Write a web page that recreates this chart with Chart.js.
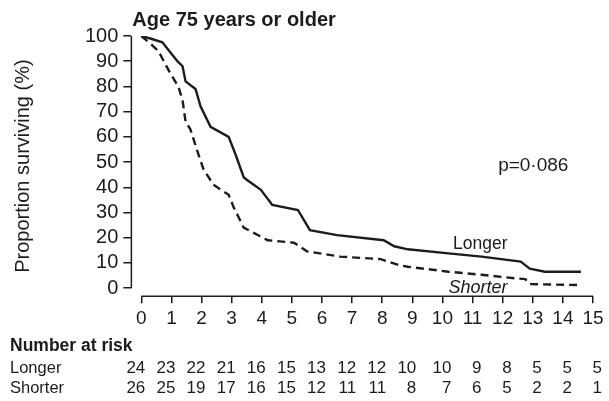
<!DOCTYPE html>
<html>
<head>
<meta charset="utf-8">
<script src="https://cdn.jsdelivr.net/npm/chart.js@4.4.1/dist/chart.umd.min.js"></script>
<style>
  html, body { margin: 0; padding: 0; background: #fff; }
  #wrap { width: 609px; height: 401px; position: relative; }
</style>
</head>
<body>
<div id="wrap"><canvas id="km"></canvas></div>
<script>
// survival curves (years, % surviving)
const longerX = [0, 0.3, 0.7, 1.0, 1.2, 1.37, 1.47, 1.8, 1.97, 2.3, 2.9, 3.13, 3.4, 3.5, 3.97, 4.35, 5.2, 5.6, 6.5, 8.05, 8.4, 8.85, 10.2, 11.3, 12.6, 12.9, 13.4, 14.6];
const longerY = [100, 99, 97.5, 93, 90, 88, 82, 79, 72, 64, 60, 53, 44, 43, 39, 33, 31, 23, 21, 19, 16.6, 15.4, 13.8, 12.5, 10.5, 7.7, 6.5, 6.5];
const shorterX = [0, 0.3, 0.57, 0.97, 1.23, 1.37, 1.47, 1.63, 1.87, 2.07, 2.4, 2.9, 3.07, 3.4, 4.2, 5.07, 5.5, 6.6, 7.95, 8.6, 8.85, 10.2, 11.3, 12.5, 12.75, 12.9, 14.6];
const shorterY = [100, 97, 94, 85, 80, 74.5, 66, 63, 54, 47, 41, 37, 32, 24, 19, 18, 14.6, 12.5, 11.5, 9, 8.5, 6.5, 5.3, 3.8, 3.6, 1.6, 1.2];

const xTicks = [0, 1, 2, 3, 4, 5, 6, 7, 8, 9, 10, 11, 12, 13, 14, 15];
const yTicks = [0, 10, 20, 30, 40, 50, 60, 70, 80, 90, 100];

const riskLonger = [24, 23, 22, 21, 16, 15, 13, 12, 12, 10, 10, 9, 8, 5, 5, 5];
const riskShorter = [26, 25, 19, 17, 16, 15, 12, 11, 11, 8, 7, 6, 5, 2, 2, 1];

const ink = "#1c1c1c";
const FONT = "'Liberation Sans', Arial, sans-serif";

const pts = (xs, ys) => xs.map((x, i) => ({ x, y: ys[i] }));

// axis lines only span the data range (0..100, 0..15), offset like the print
const axisLines = {
  id: "axisLines",
  afterDraw(chart) {
    const { ctx, scales: { x, y }, chartArea } = chart;
    ctx.save();
    ctx.strokeStyle = ink;
    ctx.lineWidth = 1.5;
    ctx.beginPath();
    ctx.moveTo(chartArea.left, y.getPixelForValue(100));
    ctx.lineTo(chartArea.left, y.getPixelForValue(0));
    ctx.moveTo(x.getPixelForValue(0), chartArea.bottom);
    ctx.lineTo(x.getPixelForValue(15), chartArea.bottom);
    ctx.stroke();
    ctx.restore();
  }
};

// title, labels, p value and the number-at-risk table
const annotations = {
  id: "annotations",
  afterDraw(chart) {
    const { ctx, scales: { x, y }, chartArea } = chart;
    ctx.save();
    ctx.fillStyle = ink;
    ctx.textBaseline = "middle";

    ctx.textAlign = "left";
    ctx.font = `bold 20px ${FONT}`;
    ctx.fillText("Age 75 years or older", chartArea.left + 1, 20);

    ctx.font = `19px ${FONT}`;
    ctx.fillText("p=0·086", x.getPixelForValue(11.85), y.getPixelForValue(48.5));
    ctx.font = `17.5px ${FONT}`;
    ctx.fillText("Longer", x.getPixelForValue(10.35), y.getPixelForValue(17.5));
    ctx.font = `italic 18px ${FONT}`;
    ctx.fillText("Shorter", x.getPixelForValue(10.2), y.getPixelForValue(0.2));

    ctx.font = `bold 17.5px ${FONT}`;
    ctx.fillText("Number at risk", 10, 346);
    ctx.font = `16.5px ${FONT}`;
    ctx.fillText("Longer", 10, 368);
    ctx.fillText("Shorter", 10, 388);

    ctx.font = `17px ${FONT}`;
    ctx.textAlign = "right";
    xTicks.forEach((t, i) => {
      const px = x.getPixelForValue(t) + (i < 10 ? 4 : 9);
      ctx.fillText(String(riskLonger[i]), px, 368);
      ctx.fillText(String(riskShorter[i]), px, 388);
    });
    ctx.restore();
  }
};

new Chart(document.getElementById("km"), {
  type: "line",
  data: {
    datasets: [
      {
        label: "Longer",
        data: pts(longerX, longerY),
        borderColor: ink,
        borderWidth: 2.4,
        pointRadius: 0,
        tension: 0,
        fill: false
      },
      {
        label: "Shorter",
        data: pts(shorterX, shorterY),
        borderColor: ink,
        borderWidth: 2.4,
        borderDash: [8, 5],
        pointRadius: 0,
        tension: 0,
        fill: false
      }
    ]
  },
  options: {
    responsive: true,
    maintainAspectRatio: false,
    animation: false,
    events: [],
    layout: { padding: { top: 36, right: 16, bottom: 67, left: 4 } },
    plugins: {
      legend: { display: false },
      tooltip: { enabled: false }
    },
    scales: {
      x: {
        type: "linear",
        min: -0.33,
        max: 15,
        afterBuildTicks: (s) => { s.ticks = xTicks.map(v => ({ value: v })); },
        border: { display: false },
        grid: { drawOnChartArea: false, drawTicks: true, tickLength: 7, color: ink, lineWidth: 1.5 },
        ticks: { color: ink, font: { family: FONT, size: 19 }, padding: 4, maxRotation: 0, autoSkip: false }
      },
      y: {
        min: -3.2,
        max: 100,
        afterBuildTicks: (s) => { s.ticks = yTicks.map(v => ({ value: v })); },
        border: { display: false },
        grid: { drawOnChartArea: false, drawTicks: true, tickLength: 8, color: ink, lineWidth: 1.5 },
        ticks: { color: ink, font: { family: FONT, size: 20 }, padding: 5, autoSkip: false },
        title: {
          display: true,
          text: "Proportion surviving (%)",
          color: ink,
          font: { family: FONT, size: 20 },
          padding: { top: 7, bottom: 45 }
        }
      }
    }
  },
  plugins: [axisLines, annotations]
});
</script>
</body>
</html>
